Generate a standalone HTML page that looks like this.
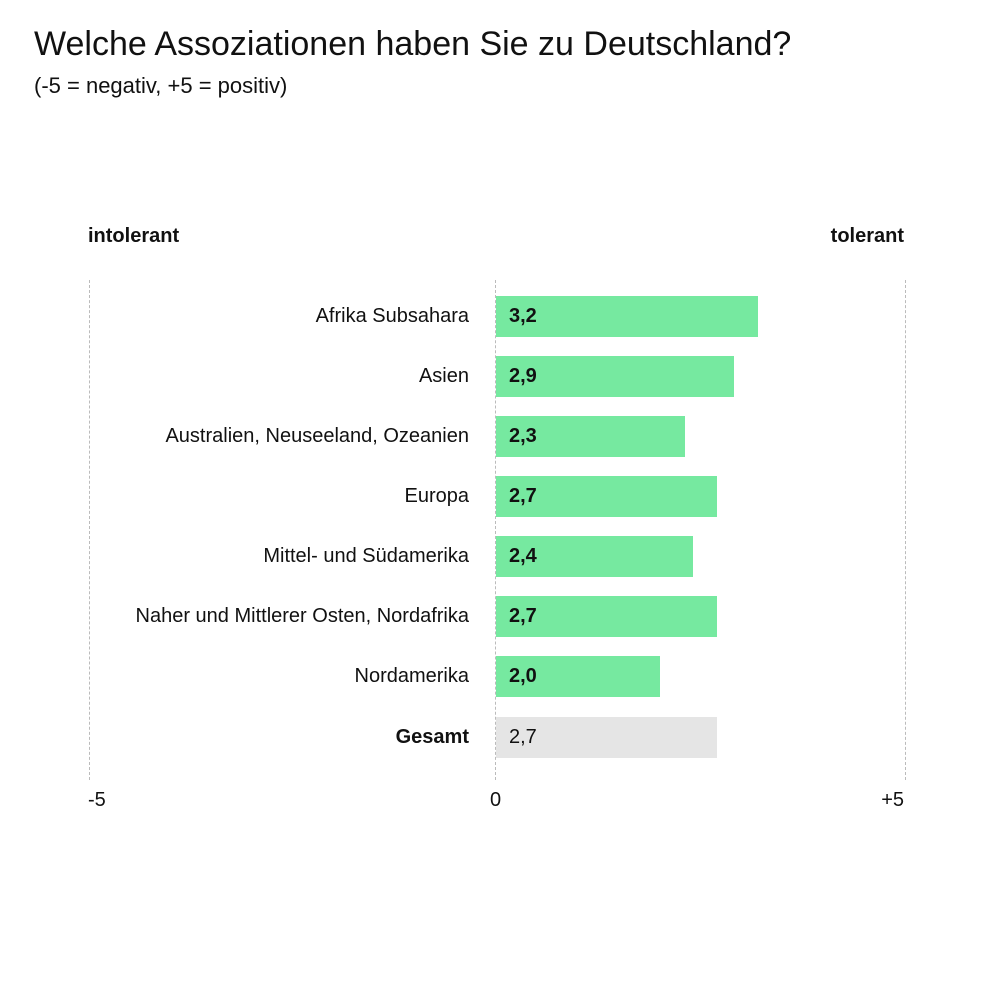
<!DOCTYPE html>
<html><head><meta charset="utf-8"><style>
body{margin:0;width:992px;height:992px;background:#fff;position:relative;font-family:"Liberation Sans Narrow","Liberation Sans",sans-serif;color:#111;overflow:hidden}
.a{position:absolute;white-space:nowrap}
.dash{position:absolute;top:280px;height:500px;border-left:1.5px dashed #bbb;width:0}
.bar{position:absolute;left:496px;height:41px;background:#76e9a0}
.lab{position:absolute;right:523px;font-size:20px;line-height:41px}
.val{position:absolute;left:509px;font-size:20px;font-weight:bold;line-height:41px}
</style></head><body>
<div class="a" style="left:34px;top:25px;font-size:34px">Welche Assoziationen haben Sie zu Deutschland?</div>
<div class="a" style="left:34px;top:73px;font-size:22px">(-5 = negativ, +5 = positiv)</div>
<div class="a" style="left:88px;top:225px;font-size:20px;font-weight:bold">intolerant</div>
<div class="a" style="right:88px;top:225px;font-size:20px;font-weight:bold">tolerant</div>
<div class="dash" style="left:89px"></div>
<div class="dash" style="left:495px"></div>
<div class="dash" style="left:905px"></div>

<div class="bar" style="top:296px;width:262px"></div><div class="lab" style="top:296px">Afrika Subsahara</div><div class="val" style="top:296px">3,2</div>
<div class="bar" style="top:356px;width:238px"></div><div class="lab" style="top:356px">Asien</div><div class="val" style="top:356px">2,9</div>
<div class="bar" style="top:416px;width:189px"></div><div class="lab" style="top:416px">Australien, Neuseeland, Ozeanien</div><div class="val" style="top:416px">2,3</div>
<div class="bar" style="top:476px;width:221px"></div><div class="lab" style="top:476px">Europa</div><div class="val" style="top:476px">2,7</div>
<div class="bar" style="top:536px;width:197px"></div><div class="lab" style="top:536px">Mittel- und Südamerika</div><div class="val" style="top:536px">2,4</div>
<div class="bar" style="top:596px;width:221px"></div><div class="lab" style="top:596px">Naher und Mittlerer Osten, Nordafrika</div><div class="val" style="top:596px">2,7</div>
<div class="bar" style="top:656px;width:164px"></div><div class="lab" style="top:656px">Nordamerika</div><div class="val" style="top:656px">2,0</div>
<div class="bar" style="top:717px;width:221px;background:#e5e5e5"></div><div class="lab" style="top:717px;font-weight:bold">Gesamt</div><div class="val" style="top:717px;font-weight:normal">2,7</div>

<div class="a" style="left:88px;top:789px;font-size:20px">-5</div>
<div class="a" style="left:490px;top:789px;font-size:20px">0</div>
<div class="a" style="right:88px;top:789px;font-size:20px">+5</div>
</body></html>
